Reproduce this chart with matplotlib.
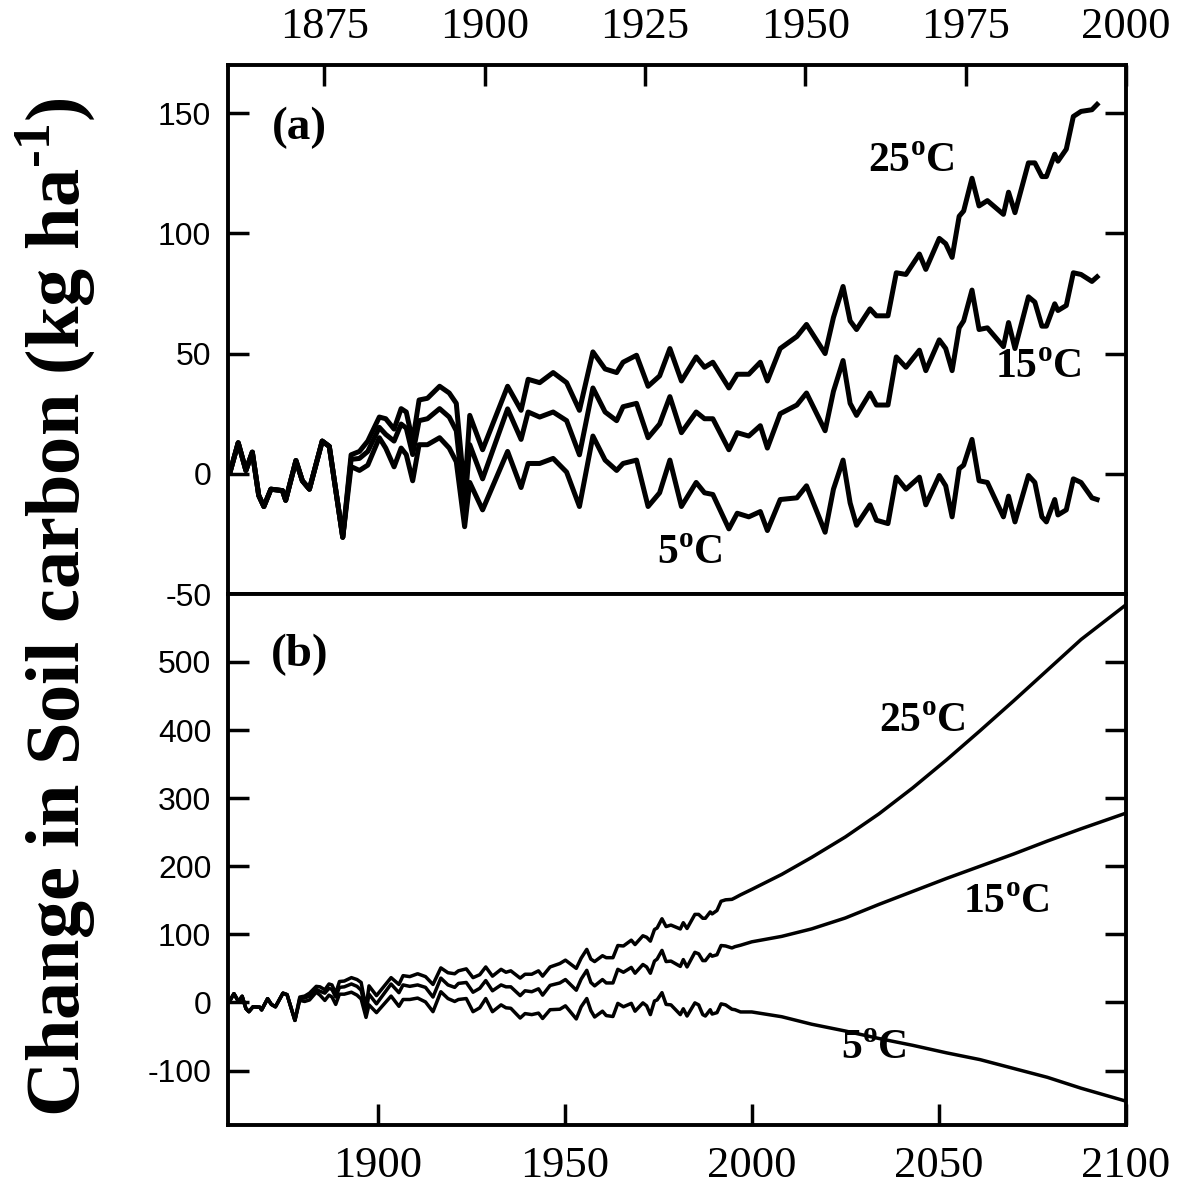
import numpy as np
import matplotlib
matplotlib.use("Agg")
from matplotlib import pyplot as plt

plt.rcParams['axes.unicode_minus'] = False
plt.rcParams['mathtext.fontset'] = 'custom'
plt.rcParams['mathtext.rm'] = 'Liberation Serif:bold'
plt.rcParams['mathtext.bf'] = 'Liberation Serif:bold'

# historical series (year, change in soil carbon kg/ha)
years = [1860.4, 1861.6, 1862.8, 1863.8, 1864.8, 1865.6, 1866.7, 1868.5, 1869.0,
         1870.6, 1871.6, 1872.7, 1874.7, 1875.8, 1877.9, 1879.2, 1880.5,
         1881.8, 1883.6, 1884.6, 1885.9, 1887.0, 1887.8, 1888.8, 1889.8, 1891.1,
         1893.0, 1894.5, 1895.6, 1896.9, 1897.7, 1899.7, 1903.6, 1905.7, 1906.8,
         1908.6, 1910.7, 1912.8, 1914.8, 1916.9, 1918.8, 1920.6, 1921.6, 1923.7,
         1925.5, 1927.3, 1928.9, 1930.7, 1933.0, 1934.3, 1935.6, 1938.1, 1939.4,
         1941.2, 1943.0, 1944.1, 1946.1, 1948.7, 1950.2, 1953.1, 1954.4, 1955.9,
         1957.0, 1958.0, 1960.1, 1961.1, 1962.9, 1964.2, 1965.7, 1967.8, 1968.8,
         1970.9, 1971.9, 1972.9, 1974.0, 1974.7, 1976.0, 1977.1, 1978.4, 1980.9,
         1981.7, 1982.7, 1984.8, 1985.8, 1986.9, 1987.6, 1988.9, 1989.4, 1990.7,
         1991.8, 1993.0, 1994.7, 1995.5]

c25 = [1.4, 12.9, 1.4, 9.0, -9.0, -13.6, -6.4, -7.0, -11.0,
       5.5, -2.9, -6.4, 13.6, 11.4, -26.4, 7.9, 9.3,
       13.6, 23.6, 22.9, 18.6, 27.1, 25.7, 13.6, 30.7, 31.4,
       36.4, 33.6, 29.3, -8.0, 24.3, 10.0, 36.4, 26.4, 39.3,
       37.9, 42.1, 37.9, 26.4, 50.7, 43.6, 42.1, 46.4, 49.3,
       36.4, 40.7, 52.1, 38.6, 48.6, 44.3, 46.4, 35.7, 41.4,
       41.4, 46.4, 38.6, 52.1, 57.1, 62.1, 50.0, 65.0, 77.9,
       63.6, 60.0, 68.6, 65.7, 65.7, 83.6, 82.9, 91.4, 85.0,
       97.9, 95.7, 90.0, 107.1, 109.3, 122.9, 111.4, 113.6, 107.9,
       117.1, 108.6, 129.3, 129.3, 123.6, 123.6, 132.9, 130.0, 135.0,
       148.6, 150.7, 151.4, 153.6]

c15 = [1.4, 12.9, 1.4, 9.0, -9.0, -13.6, -6.4, -7.0, -11.0,
       5.5, -2.9, -6.4, 13.6, 11.4, -26.4, 6.0, 6.4,
       9.3, 19.3, 16.4, 13.6, 20.7, 19.0, 8.0, 22.1, 22.9,
       27.1, 23.6, 17.9, -14.0, 12.1, -2.1, 27.0, 14.3, 25.7,
       23.6, 25.7, 22.1, 7.9, 35.7, 25.7, 22.1, 27.9, 29.3,
       15.0, 20.7, 32.1, 17.1, 25.7, 22.9, 22.9, 10.0, 17.1,
       15.7, 20.0, 10.7, 25.0, 28.6, 33.6, 17.9, 34.3, 47.1,
       29.3, 24.3, 33.6, 28.6, 28.6, 48.6, 44.3, 51.4, 42.9,
       55.7, 52.1, 42.9, 60.7, 63.6, 76.4, 60.0, 60.7, 52.9,
       62.9, 52.1, 73.6, 71.4, 61.4, 61.4, 70.7, 67.9, 70.0,
       83.6, 82.9, 80.0, 81.9]

c5 = [1.4, 12.9, 1.4, 9.0, -9.0, -13.6, -6.4, -7.0, -11.0,
      5.5, -2.9, -6.4, 13.6, 11.4, -26.4, 3.0, 1.4,
      3.6, 15.0, 10.7, 2.9, 10.7, 8.0, -2.9, 12.1, 12.1,
      15.0, 10.7, 5.0, -22.0, -3.6, -15.0, 9.3, -5.7, 4.3,
      4.3, 6.4, 0.7, -13.6, 15.7, 5.7, 1.4, 4.3, 5.7,
      -13.6, -7.9, 5.7, -13.6, -3.6, -7.9, -8.6, -22.9, -16.4,
      -17.9, -15.7, -23.6, -10.7, -10.0, -5.0, -24.3, -6.4, 5.7,
      -12.1, -21.4, -12.9, -19.3, -20.7, -1.4, -6.4, -1.4, -12.9,
      -0.7, -5.0, -17.9, 2.1, 3.6, 14.3, -2.9, -3.6, -17.9,
      -9.3, -20.0, -0.7, -3.6, -17.9, -20.0, -10.7, -17.1, -15.0,
      -2.1, -3.6, -10.0, -10.7]

# projections to 2100, panel (b)
proj_years = [1997, 2000, 2008, 2016, 2025, 2034, 2043, 2052, 2061, 2070, 2079, 2088, 2100]
p25 = [158, 166, 188, 213, 243, 277, 315, 356, 399, 443, 488, 533, 584]
p15 = [84, 89, 97, 108, 124, 144, 163, 182, 200, 218, 237, 255, 278]
p5 = [-14, -14, -21, -32, -42, -53, -63, -74, -84, -97, -110, -126, -145]

labels_a = [('25', 1966.6, 129.6), ('15', 1986.4, 43.8), ('5', 1932.0, -33.3)]
labels_b = [('25', 2045.6, 412), ('15', 2068.0, 146), ('5', 2032.7, -68)]

fig = plt.figure(figsize=(11.78, 11.95), dpi=100)
ax1 = fig.add_axes([0.1935, 0.5029, 0.7623, 0.4427])
ax2 = fig.add_axes([0.1935, 0.0586, 0.7623, 0.4444])

for c in (c25, c15, c5):
    ax1.plot(years, c, color='black', lw=3.6)
for c, p in ((c25, p25), (c15, p15), (c5, p5)):
    ax2.plot(years + proj_years, c + p, color='black', lw=2.5)

ax1.set_xlim(1860, 2000)
ax1.set_ylim(-50, 170)
ax1.set_xticks([1875, 1900, 1925, 1950, 1975, 2000])
ax1.set_yticks([-50, 0, 50, 100, 150])
ax1.tick_params(axis='x', top=True, bottom=False, labeltop=True, labelbottom=False,
                direction='in', length=15, width=2.5, pad=13)
ax1.tick_params(axis='y', left=True, right=True, direction='in', length=15, width=2.5, pad=12)

ax2.set_xlim(1860, 2100)
ax2.set_ylim(-180, 600)
ax2.set_xticks([1900, 1950, 2000, 2050, 2100])
ax2.set_yticks([-100, 0, 100, 200, 300, 400, 500])
ax2.tick_params(axis='x', direction='in', length=15, width=2.5, pad=15)
ax2.tick_params(axis='y', left=True, right=True, direction='in', length=15, width=2.5, pad=12)

for ax in (ax1, ax2):
    for s in ax.spines.values():
        s.set_linewidth(2.8)
    for t in ax.get_xticklabels():
        t.set_fontfamily('Liberation Serif')
        t.set_fontsize(32)
    for t in ax.get_yticklabels():
        t.set_fontfamily('Liberation Sans')
        t.set_fontsize(23)

ann = dict(family='Liberation Serif', weight='bold', size=30, ha='center', va='center')
for txt, x, y in labels_a:
    ax1.text(x, y, txt + r'$^{\mathrm{o}}$C', **ann)
for txt, x, y in labels_b:
    ax2.text(x, y, txt + r'$^{\mathrm{o}}$C', **ann)
ax1.text(1871.2, 143.8, '(a)', family='Liberation Serif', weight='bold', size=34,
         ha='center', va='center')
ax2.text(1879.3, 510, '(b)', family='Liberation Serif', weight='bold', size=34,
         ha='center', va='center')

fig.text(55 / 1178, 0.492, r'Change in Soil carbon (kg ha$^{\text{-1}}$)',
         rotation=90, ha='center', va='center', family='Liberation Serif',
         weight='bold', size=55)

fig.savefig('out.png', dpi=100)
